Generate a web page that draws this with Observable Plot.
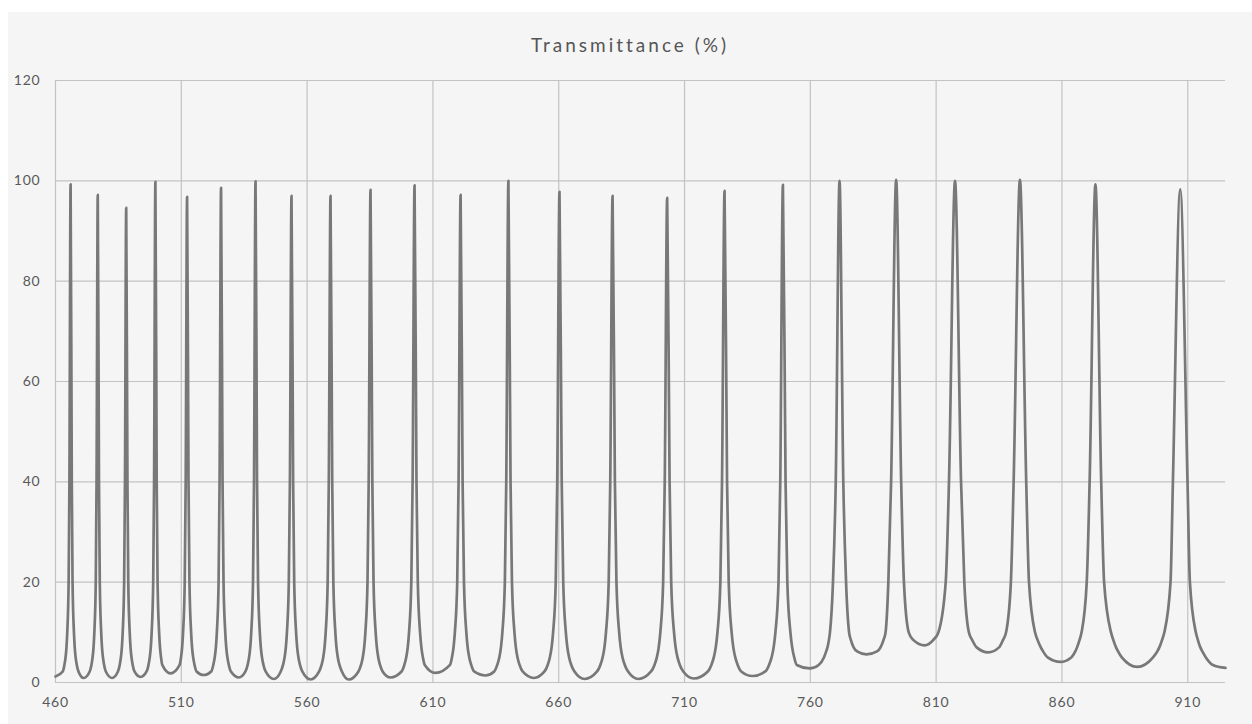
<!DOCTYPE html>
<html>
<head>
<meta charset="utf-8">
<script src="https://cdn.jsdelivr.net/npm/d3@7"></script>
<script src="https://cdn.jsdelivr.net/npm/@observablehq/plot@0.6"></script>
<style>
  html, body { margin: 0; padding: 0; background: #ffffff; }
  #panel { position: absolute; left: 8px; top: 12px; width: 1244px; height: 712px; background: #f5f5f5; }
  #title { height: 56px; box-sizing: border-box; padding-top: 22px; line-height: 22px; text-align: center;
           font-family: Lato, "Open Sans", sans-serif; font-size: 19px; letter-spacing: 3px; color: #555555; }
  #chart svg { display: block; }
</style>
</head>
<body>
<div id="panel">
  <div id="title">Transmittance (%)</div>
  <div id="chart"></div>
</div>
<script>
// Axis ticks
const xTicks = [460, 510, 560, 610, 660, 710, 760, 810, 860, 910];
const yTicks = [0, 20, 40, 60, 80, 100, 120];

// Transmission peaks (wavelength, nm) and their maximum transmittance (%)
const peakNm  = [466.0, 476.8, 488.1, 499.7, 512.3, 525.8, 539.5, 553.8, 569.3, 585.2, 602.7, 621.0,
                 640.0, 660.3, 681.4, 703.1, 725.9, 749.1, 771.6, 794.1, 817.5, 843.3, 873.3, 907.0];
const peakPct = [99.3, 97.2, 94.6, 99.8, 96.8, 98.6, 99.9, 97.0, 97.0, 98.2, 99.1, 97.2,
                 100.0, 97.8, 97.0, 96.6, 98.0, 99.2, 100.0, 100.2, 100.0, 100.2, 99.3, 98.3];

// Half-widths (nm) of each peak at 40 % and 20 % transmittance
const halfWidth40 = [0.47, 0.48, 0.49, 0.52, 0.56, 0.59, 0.60, 0.64, 0.68, 0.72, 0.77, 0.80,
                     0.85, 0.89, 0.92, 0.96, 1.00, 1.05, 1.5, 2.0, 2.4, 2.5, 2.3, 2.9];
const halfWidth20 = [0.78, 0.80, 0.82, 0.87, 0.94, 0.98, 1.00, 1.07, 1.13, 1.20, 1.29, 1.34,
                     1.41, 1.49, 1.54, 1.60, 1.66, 1.75, 2.6, 3.1, 3.7, 3.6, 3.45, 3.85];

// Distance (nm) from each peak to where its flank reaches these transmittance levels
const tailLevels = [10, 8.5, 7, 6.2, 5, 3.5, 2.2];
const tailLeft = [
  [1.33, null, 1.64, null, 2.00, 2.46, 3.12], [1.36, null, 1.68, null, 2.06, 2.52, 3.20],
  [1.39, null, 1.72, null, 2.11, 2.58, 3.28], [1.48, null, 1.83, null, 2.24, 2.74, 3.48],
  [1.60, null, 1.97, null, 2.42, 2.96, 3.76], [1.67, null, 2.06, null, 2.52, 3.09, 3.92],
  [1.70, null, 2.10, null, 2.57, 3.15, 4.00], [1.82, null, 2.25, null, 2.75, 3.37, 4.28],
  [1.92, null, 2.37, null, 2.90, 3.56, 4.52], [2.04, null, 2.52, null, 3.08, 3.78, 4.80],
  [2.19, null, 2.71, null, 3.32, 4.06, 5.16], [2.28, null, 2.81, null, 3.44, 4.22, 5.36],
  [2.40, null, 2.96, null, 3.62, 4.44, 5.64], [2.53, null, 3.13, null, 3.83, 4.69, 5.96],
  [2.62, null, 3.23, null, 3.96, 4.85, 6.16], [2.72, null, 3.36, null, 4.11, 5.04, 6.40],
  [2.82, null, 3.49, null, 4.27, 5.23, 6.64], [2.98, null, 3.68, null, 4.50, 5.51, 7.00],
  [3.8, 4.2, 4.8, 5.3, 6.2, 8.3, null], [4.2, 5.0, 6.2, 7.6, null, null, null],
  [6.6, 8.6, null, null, null, null, null], [5.5, 6.7, 8.3, null, null, null, null],
  [5.5, 6.3, 7.3, 8.0, 9.6, null, null], [6.3, 7.2, 8.3, 9.1, 10.8, 13.5, null]
];
const tailRight = [
  [1.33, null, 1.64, null, 2.00, 2.46, 3.12], [1.36, null, 1.68, null, 2.06, 2.52, 3.20],
  [1.39, null, 1.72, null, 2.11, 2.58, 3.28], [1.48, null, 1.83, null, 2.24, 2.74, 3.48],
  [1.60, null, 1.97, null, 2.42, 2.96, 3.76], [1.67, null, 2.06, null, 2.52, 3.09, 3.92],
  [1.70, null, 2.10, null, 2.57, 3.15, 4.00], [1.82, null, 2.25, null, 2.75, 3.37, 4.28],
  [1.92, null, 2.37, null, 2.90, 3.56, 4.52], [2.04, null, 2.52, null, 3.08, 3.78, 4.80],
  [2.19, null, 2.71, null, 3.32, 4.06, 5.16], [2.28, null, 2.81, null, 3.44, 4.22, 5.36],
  [2.40, null, 2.96, null, 3.62, 4.44, 5.64], [2.53, null, 3.13, null, 3.83, 4.69, 5.96],
  [2.62, null, 3.23, null, 3.96, 4.85, 6.16], [2.72, null, 3.36, null, 4.11, 5.04, 6.40],
  [2.82, null, 3.49, null, 4.27, 5.23, 6.64], [2.98, null, 3.68, null, 4.50, 5.51, null],
  [3.8, 4.5, 5.6, 7.0, null, null, null], [5.0, 6.8, null, null, null, null, null],
  [5.5, 6.8, 8.6, null, null, null, null], [6.0, 7.0, 8.3, 9.2, 11.0, null, null],
  [6.2, 7.1, 8.2, 9.0, 10.5, 13.2, null], [6.2, 7.0, 8.0, 8.8, 10.2, 13.0, null]
];

// Transmission minima between the peaks (first and last are the ends of the range)
const valleyNm  = [460, 471.2, 482.5, 493.8, 505.7, 518.9, 532.9, 546.8, 561.4, 576.5, 593.1, 611.0,
                   630.9, 650.1, 670.3, 691.7, 713.7, 736.9, 759.8, 782.3, 805.4, 830.7, 859.4, 889.9, 925];
const valleyPct = [1.2, 0.9, 0.9, 1.1, 1.8, 1.5, 1.0, 0.7, 0.6, 0.6, 1.0, 1.9,
                   1.4, 0.9, 0.7, 0.7, 0.8, 1.3, 2.8, 5.6, 7.4, 6.0, 4.1, 3.1, 2.9];

// Build the table of spectrum points from the arrays above
const spectrum = [];
peakNm.forEach((c, i) => {
  spectrum.push({nm: valleyNm[i], t: valleyPct[i]});
  for (let k = tailLevels.length - 1; k >= 0; --k) {
    const w = tailLeft[i][k];
    if (w != null && tailLevels[k] > valleyPct[i] + 0.5) spectrum.push({nm: c - w, t: tailLevels[k]});
  }
  spectrum.push({nm: c - halfWidth20[i], t: 20});
  spectrum.push({nm: c - halfWidth40[i], t: 40});
  spectrum.push({nm: c, t: peakPct[i]});
  spectrum.push({nm: c + halfWidth40[i], t: 40});
  spectrum.push({nm: c + halfWidth20[i], t: 20});
  for (let k = 0; k < tailLevels.length; ++k) {
    const w = tailRight[i][k];
    if (w != null && tailLevels[k] > valleyPct[i + 1] + 0.5) spectrum.push({nm: c + w, t: tailLevels[k]});
  }
});
spectrum.push({nm: valleyNm[valleyNm.length - 1], t: valleyPct[valleyPct.length - 1]});

const chart = Plot.plot({
  width: 1244,
  height: 656,
  marginTop: 12,
  marginLeft: 47,
  marginRight: 27,
  marginBottom: 42,
  style: {background: "transparent", fontFamily: "Lato, 'Open Sans', sans-serif", fontSize: "14px",
          letterSpacing: "0.8px", color: "#595959"},
  x: {domain: [460, 925], ticks: xTicks, tickFormat: d => String(d), tickSize: 0, tickPadding: 15, label: null},
  y: {domain: [0, 120], ticks: yTicks, tickSize: 0, tickPadding: 15, label: null},
  marks: [
    Plot.ruleX(xTicks, {stroke: "#c3c3c3", strokeWidth: 1.2}),
    Plot.ruleY(yTicks, {stroke: "#c3c3c3", strokeWidth: 1.2}),
    Plot.line(spectrum, {x: "nm", y: "t", stroke: "#787878", strokeWidth: 2.7, curve: "monotone-x"})
  ]
});
document.getElementById("chart").appendChild(chart);
</script>
</body>
</html>
